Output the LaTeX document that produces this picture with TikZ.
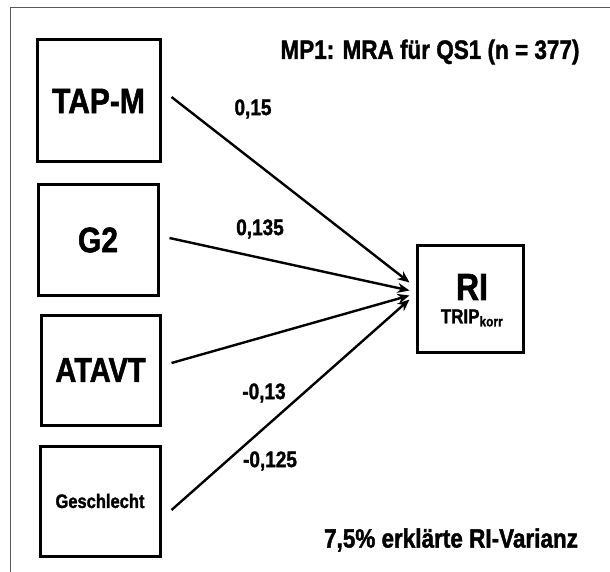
\documentclass[tikz,border=0pt]{standalone}
\usepackage{fontspec}
\usepackage{graphicx}
\setmainfont{Liberation Sans}
\newfontfamily\heavy{Liberation Sans Bold}[FakeBold=1.6]
\usetikzlibrary{arrows.meta}
\newcommand{\vst}[1]{\scalebox{1}[1.18]{#1}}
\tikzset{
  box/.style={draw=black, line width=3pt, inner sep=0pt},
  conn/.style={line width=2.4pt, -{Stealth[length=12pt,width=10pt]}},
  lbl/.style={font=\heavy\fontsize{19}{21}\selectfont, inner sep=0pt},
}
\begin{document}
\begin{tikzpicture}[x=1pt,y=-1pt]
\useasboundingbox (0,0) rectangle (610,572);
\fill[white] (0,0) rectangle (610,572);
% partial frame
\draw[gray!70!black, line width=1pt] (10,572) -- (10,8) -- (610,8);
% boxes
\node[box, minimum width=123pt, minimum height=122pt, font=\heavy\fontsize{30}{32}\selectfont] (tapm) at (98.5,101) {\vst{TAP-M}};
\node[box, minimum width=120pt, minimum height=110pt, font=\heavy\fontsize{30}{32}\selectfont] (g2) at (98,240) {\vst{G2}};
\node[box, minimum width=119pt, minimum height=110pt, font=\heavy\fontsize{29}{31}\selectfont] (atavt) at (100.5,370) {\vst{ATAVT}};
\node[box, minimum width=120pt, minimum height=110pt, font=\heavy\fontsize{16.5}{18}\selectfont] (ges) at (100,501) {\vst{Geschlecht}};
\node[box, minimum width=106pt, minimum height=107pt] (ri) at (470,298.5) {};
\node[font=\heavy\fontsize{32}{34}\selectfont, inner sep=0pt] (rit) at (472,287) {\vst{RI}};
\node[font=\heavy\fontsize{17}{18}\selectfont, inner sep=0pt] (trip) at (472,318) {\vst{TRIP\textsubscript{korr}}};
% arrows (yshift is in canvas direction: positive = up)
\draw[conn] ([xshift=10pt,yshift=4pt]tapm.east) -- ([xshift=-6pt,yshift=16pt]ri.west);
\draw[conn] ([xshift=10pt,yshift=2pt]g2.east) -- ([xshift=-6pt,yshift=8pt]ri.west);
\draw[conn] ([xshift=10pt,yshift=7pt]atavt.east) -- ([xshift=-6pt,yshift=3pt]ri.west);
\draw[conn] ([xshift=10pt,yshift=-9pt]ges.east) -- ([xshift=-6pt,yshift=-1pt]ri.west);
% labels
\node[lbl] (l1) at (253,109) {\vst{0,15}};
\node[lbl] (l2) at (260,229) {\vst{0,135}};
\node[lbl] (l3) at (264,393) {\vst{-0,13}};
\node[lbl] (l4) at (270,461) {\vst{-0,125}};
\node[font=\heavy\fontsize{22.5}{24}\selectfont, inner sep=0pt] (title) at (430,52) {\vst{MP1: MRA für QS1 (n = 377)}};
\node[font=\heavy\fontsize{22.5}{24}\selectfont, inner sep=0pt] (var) at (451,540) {\vst{7,5\% erklärte RI-Varianz}};
\end{tikzpicture}
\end{document}
